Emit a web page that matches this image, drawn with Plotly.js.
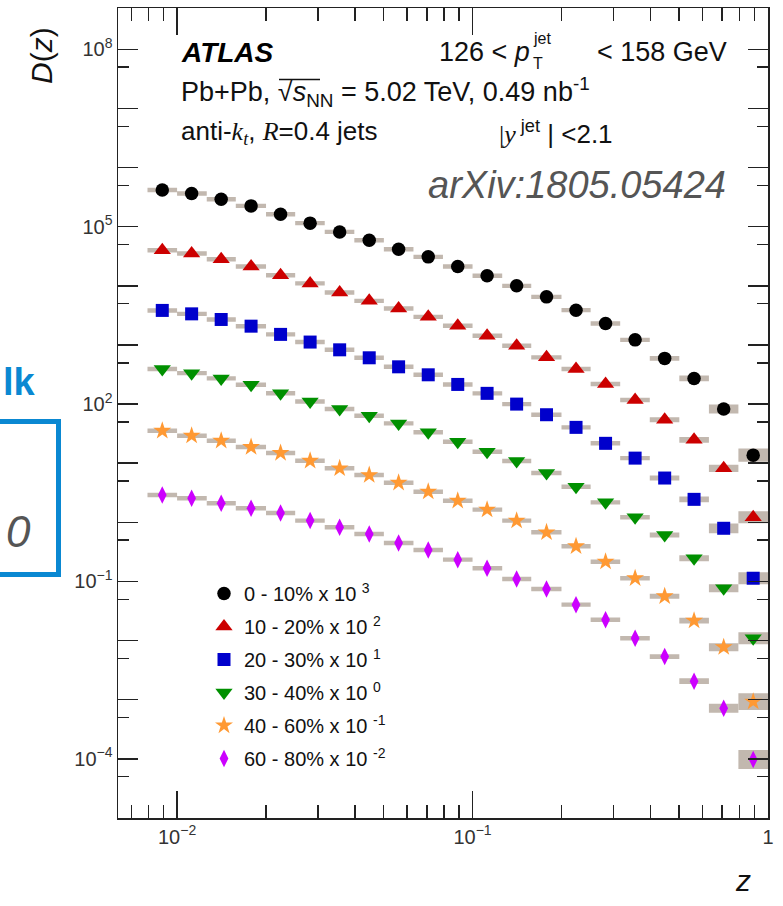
<!DOCTYPE html>
<html>
<head>
<meta charset="utf-8">
<script src="https://cdn.plot.ly/plotly-3.0.1.min.js"></script>
<style>
  html, body { margin: 0; padding: 0; background: #fff; }
  #chart { width: 783px; height: 906px; }
</style>
</head>
<body>
<div id="chart"></div>
<script>
// z bins: 0.1-decade wide, edges and centres
const zEdges = [0.00794, 0.0100, 0.0126, 0.0158, 0.0200, 0.0251, 0.0316, 0.0398, 0.0501, 0.0631,
                0.0794, 0.100, 0.126, 0.158, 0.200, 0.251, 0.316, 0.398, 0.501, 0.631, 0.794, 1.0];
const zCenters = [0.00891, 0.0112, 0.0141, 0.0178, 0.0224, 0.0282, 0.0355, 0.0447, 0.0562, 0.0708,
                  0.0891, 0.112, 0.141, 0.178, 0.224, 0.282, 0.355, 0.447, 0.562, 0.708, 0.891];

// centrality classes and the scale factor (power of ten) each is drawn with
const centralities = ['0 - 10%', '10 - 20%', '20 - 30%', '30 - 40%', '40 - 60%', '60 - 80%'];
const scaleExp = [3, 2, 1, 0, -1, -2];

// D(z) per centrality class (unscaled)
const dz_0_10 = [419, 364, 292, 225, 163, 115, 81.7, 59.2, 41.7, 30.9, 21.3, 14.8, 10.0, 6.51, 3.88, 2.31, 1.22, 0.593, 0.272, 0.0824, 0.0137];
const dz_10_20 = [401, 353, 282, 213, 151, 110, 77.3, 55.7, 41.5, 29.9, 21.1, 14.3, 9.68, 6.17, 3.91, 2.18, 1.17, 0.543, 0.249, 0.082, 0.0122];
const dz_20_30 = [384, 336, 270, 208, 151, 112, 82.8, 60.7, 42.7, 31.3, 21.5, 15.2, 10.0, 6.61, 4.04, 2.17, 1.22, 0.562, 0.245, 0.0794, 0.01135];
const dz_30_40 = [391, 334, 272, 212, 153, 111, 82.4, 63.5, 47.2, 33.3, 23.1, 15.6, 10.9, 6.82, 4.01, 2.18, 1.22, 0.611, 0.247, 0.0769, 0.01097];
const dz_40_60 = [354, 292, 240, 188, 149, 110, 82.0, 63.1, 46.8, 33.0, 23.2, 16.4, 10.7, 6.79, 3.94, 2.16, 1.135, 0.562, 0.218, 0.0774, 0.0093];
const dz_60_80 = [290, 255, 210, 173, 144, 107, 82.6, 63.5, 44.8, 34.1, 23.4, 16.75, 11.04, 7.48, 4.06, 2.26, 1.097, 0.537, 0.206, 0.072, 0.00975];

// relative systematic uncertainties (drawn as grey boxes)
const sys_0_10 = [0.09, 0.09, 0.09, 0.09, 0.09, 0.09, 0.09, 0.09, 0.09, 0.09, 0.09, 0.09, 0.09, 0.09, 0.09, 0.09, 0.09, 0.10, 0.12, 0.19, 0.29];
const sys_10_20 = [0.09, 0.09, 0.09, 0.09, 0.09, 0.09, 0.09, 0.09, 0.09, 0.09, 0.09, 0.09, 0.09, 0.09, 0.09, 0.09, 0.09, 0.10, 0.12, 0.15, 0.26];
const sys_20_30 = [0.09, 0.09, 0.09, 0.09, 0.09, 0.09, 0.09, 0.09, 0.09, 0.09, 0.09, 0.09, 0.09, 0.09, 0.09, 0.09, 0.09, 0.10, 0.12, 0.21, 0.26];
const sys_30_40 = [0.09, 0.09, 0.09, 0.09, 0.09, 0.09, 0.09, 0.09, 0.09, 0.09, 0.09, 0.09, 0.09, 0.09, 0.09, 0.09, 0.09, 0.10, 0.12, 0.17, 0.26];
const sys_40_60 = [0.09, 0.09, 0.09, 0.09, 0.09, 0.09, 0.09, 0.09, 0.09, 0.09, 0.09, 0.09, 0.09, 0.09, 0.09, 0.09, 0.09, 0.10, 0.12, 0.17, 0.39];
const sys_60_80 = [0.09, 0.09, 0.09, 0.09, 0.09, 0.09, 0.09, 0.09, 0.09, 0.09, 0.09, 0.09, 0.09, 0.09, 0.09, 0.09, 0.09, 0.10, 0.12, 0.19, 0.45];

const series = [dz_0_10, dz_10_20, dz_20_30, dz_30_40, dz_40_60, dz_60_80];
const systematics = [sys_0_10, sys_10_20, sys_20_30, sys_30_40, sys_40_60, sys_60_80];

// marker styles
const colors = ['#000000', '#cc0000', '#0000cc', '#009000', '#ff9933', '#cc00ff'];
const symbols = ['circle', 'triangle-up', 'square', 'triangle-down', 'star', 'diamond-tall'];
const sizes = [13.5, 15, 13, 15, 13.5, 12.5];
const boxColor = 'rgb(194,184,175)';

// axis ticks
const xMajor = [0.01, 0.1, 1];
const xMajorText = ['10<sup>\u22122</sup>', '10<sup>\u22121</sup>', '1'];
const xMinor = [0.007, 0.008, 0.009, 0.02, 0.03, 0.04, 0.05, 0.06, 0.07, 0.08, 0.09,
                0.2, 0.3, 0.4, 0.5, 0.6, 0.7, 0.8, 0.9];
const yMajor = [1e-5, 1e-4, 1e-3, 1e-2, 1e-1, 1, 1e1, 1e2, 1e3, 1e4, 1e5, 1e6, 1e7, 1e8];
const yMajorText = ['', '10<sup>\u22124</sup>', '', '', '10<sup>\u22121</sup>', '', '', '10<sup>2</sup>', '', '', '10<sup>5</sup>', '', '', '10<sup>8</sup>'];
const yMinor = [5e-5, 5e-4, 5e-3, 5e-2, 5e-1, 5, 5e1, 5e2, 5e3, 5e4, 5e5, 5e6, 5e7];

// plot frame in page pixels, used to place the text labels
const frame = { left: 118, right: 768, top: 8, bottom: 818 };
const W = 783, H = 906;
const px = x => (x - frame.left) / (frame.right - frame.left);
const py = y => (frame.bottom - y) / (frame.bottom - frame.top);

const traces = [];

// grey systematic boxes, drawn underneath the markers
series.forEach((vals, i) => {
  const f = Math.pow(10, scaleExp[i]);
  const bx = [], by = [];
  vals.forEach((v, k) => {
    const y = v * f, s = 1 + systematics[i][k];
    const lo = y / s, hi = y * s;
    bx.push(zEdges[k], zEdges[k + 1], zEdges[k + 1], zEdges[k], zEdges[k], null);
    by.push(lo, lo, hi, hi, lo, null);
  });
  traces.push({
    x: bx, y: by, type: 'scatter', mode: 'lines', fill: 'toself',
    fillcolor: boxColor, line: { width: 0, color: boxColor },
    hoverinfo: 'skip', showlegend: false
  });
});

// data points
series.forEach((vals, i) => {
  const f = Math.pow(10, scaleExp[i]);
  const expTxt = scaleExp[i] < 0 ? '-' + Math.abs(scaleExp[i]) : String(scaleExp[i]);
  traces.push({
    x: zCenters, y: vals.map(v => v * f), type: 'scatter', mode: 'markers',
    name: centralities[i] + ' x 10 <sup>' + expTxt + '</sup>',
    legendgroup: 'g' + i,
    marker: { symbol: symbols[i], size: sizes[i], color: colors[i], line: { width: 0 } }
  });
});

const serif = 'Liberation Serif, Times New Roman, serif';
const sans = 'Liberation Sans, Arial, sans-serif';
const ann = (x, y, text, opts) => Object.assign({
  xref: 'paper', yref: 'paper', x: px(x), y: py(y), text: text, showarrow: false,
  xanchor: 'left', yanchor: 'middle', font: { family: sans, size: 26, color: '#111' }
}, opts || {});
const small = { family: sans, size: 16, color: '#111' };
const big = { family: sans, size: 27, color: '#111' };

const annotations = [
  ann(179, 52, '<b><i>ATLAS</i></b>', { font: { family: sans, size: 28, color: '#000' } }),
  ann(437, 52, '126 < <i>p</i>', { font: big }),
  ann(531, 38, 'jet', { font: small }),
  ann(531, 64, 'T', { font: small }),
  ann(729, 52, '< 158 GeV', { xanchor: 'right', font: big }),
  ann(179, 92, 'Pb+Pb, \u221A<i>s</i><sub>NN</sub> = 5.02 TeV, 0.49 nb<sup>-1</sup>', { font: big }),
  ann(179, 132, 'anti-<span style="font-family:' + serif + '"><i>k<sub>t</sub></i></span>, <span style="font-family:' + serif + '"><i>R</i></span>=0.4 jets'),
  ann(497, 132, '<span style="font-family:' + serif + '">|<i>y</i></span><sup> jet</sup> | <2.1'),
  ann(728, 185, '<i>arXiv:1805.05424</i>', { xanchor: 'right', font: { family: sans, size: 38, color: '#555' } }),
  // axis titles
  ann(42, 56, '<i>D</i>(<i>z</i>)', { xanchor: 'center', textangle: -90, font: { family: sans, size: 30, color: '#111' } }),
  ann(743, 880, '<i>z</i>', { xanchor: 'center', font: { family: sans, size: 30, color: '#111' } }),
  // slide fragments at the left edge
  ann(38, 382, '<b>lk</b>', { xanchor: 'right', font: { family: sans, size: 38, color: '#0a88d2' } }),
  ann(33, 531, '<i>0</i>', { xanchor: 'right', font: { family: sans, size: 44, color: '#555' } })
];

const shapes = [
  // bar of the square-root sign over s_NN
  { type: 'line', xref: 'paper', yref: 'paper', x0: px(279), x1: px(320), y0: py(79.5), y1: py(79.5),
    line: { color: '#111', width: 1.3 } },
  { type: 'rect', xref: 'paper', yref: 'paper', x0: px(-20), x1: px(58.5), y0: py(574.5), y1: py(421.5),
    line: { color: '#0a88d2', width: 5 }, fillcolor: 'rgba(0,0,0,0)' }
];

const axisCommon = {
  type: 'log', showline: true, linecolor: '#222', linewidth: 1.5, mirror: 'allticks',
  ticks: 'inside', tickwidth: 1.5, tickcolor: '#222', showgrid: false, zeroline: false,
  tickmode: 'array', tickfont: { family: sans, size: 20, color: '#333' }, fixedrange: true
};

const layout = {
  width: W, height: H,
  margin: { l: frame.left, r: W - frame.right, t: frame.top, b: H - frame.bottom },
  paper_bgcolor: '#fff', plot_bgcolor: '#fff',
  font: { family: sans, color: '#111' },
  showlegend: true,
  legend: {
    x: px(204), y: py(574), xanchor: 'left', yanchor: 'top',
    bgcolor: 'rgba(0,0,0,0)', borderwidth: 0, tracegroupgap: 4,
    font: { family: sans, size: 20, color: '#111' }, itemsizing: 'trace'
  },
  xaxis: Object.assign({}, axisCommon, {
    range: [-2.2, 0], tickvals: xMajor, ticktext: xMajorText, ticklen: 27,
    minor: { tickmode: 'array', tickvals: xMinor, ticks: 'inside', ticklen: 13, tickwidth: 1.5, tickcolor: '#222', showgrid: false }
  }),
  yaxis: Object.assign({}, axisCommon, {
    range: [-5, Math.log10(5e8)], tickvals: yMajor, ticktext: yMajorText, ticklen: 20,
    minor: { tickmode: 'array', tickvals: yMinor, ticks: 'inside', ticklen: 11, tickwidth: 1.5, tickcolor: '#222', showgrid: false }
  }),
  annotations: annotations,
  shapes: shapes
};

Plotly.newPlot('chart', traces, layout, { displayModeBar: false, staticPlot: true });
</script>
</body>
</html>
